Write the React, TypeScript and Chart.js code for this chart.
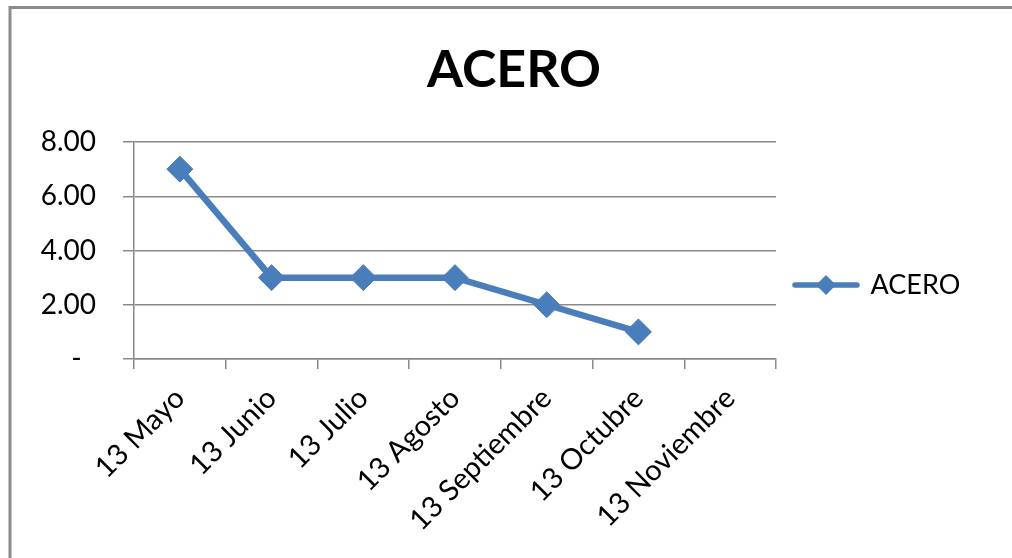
import React, { useEffect, useRef } from "react";
import { Chart, registerables } from "chart.js";

Chart.register(...registerables);

const titleText = "ACERO";
const seriesName = "ACERO";
const categories = [
  "13 Mayo",
  "13 Junio",
  "13 Julio",
  "13 Agosto",
  "13 Septiembre",
  "13 Octubre",
  "13 Noviembre",
];
const acero: (number | null)[] = [7, 3, 3, 3, 2, 1, null];
const yTickValues = [0, 2, 4, 6, 8];
const yTickLabels = ["-  ", "2.00", "4.00", "6.00", "8.00"];

const BLUE = "#4A7EBB";
const GRID = "#8a8a8a";
const FONT = "Lato, 'Open Sans', sans-serif";
const LEGEND_W = 236;

function makeLegendSample(): HTMLCanvasElement {
  const c = document.createElement("canvas");
  c.width = 68;
  c.height = 22;
  const ctx = c.getContext("2d")!;
  ctx.strokeStyle = BLUE;
  ctx.lineWidth = 5.5;
  ctx.lineCap = "round";
  ctx.beginPath();
  ctx.moveTo(3, 11);
  ctx.lineTo(65, 11);
  ctx.stroke();
  ctx.fillStyle = BLUE;
  ctx.beginPath();
  ctx.moveTo(34 - 10, 11);
  ctx.lineTo(34, 1);
  ctx.lineTo(34 + 10, 11);
  ctx.lineTo(34, 21);
  ctx.closePath();
  ctx.fill();
  return c;
}

const framePlugin = {
  id: "frame",
  beforeDraw(chart: any) {
    const ctx = chart.ctx;
    ctx.save();
    ctx.fillStyle = "#ffffff";
    ctx.fillRect(0, 0, chart.width, chart.height);
    ctx.strokeStyle = "#8c8c8c";
    ctx.lineWidth = 3;
    ctx.beginPath();
    ctx.moveTo(10, chart.height);
    ctx.lineTo(10, 7.5);
    ctx.lineTo(chart.width, 7.5);
    ctx.stroke();
    ctx.restore();
  },
};

const legendWidthPlugin = {
  id: "legendWidth",
  afterInit(chart: any) {
    const lg = chart.legend;
    if (!lg) return;
    const orig = lg.fit.bind(lg);
    lg.fit = () => {
      orig();
      lg.width = LEGEND_W;
    };
  },
};

export default function App() {
  const ref = useRef<HTMLCanvasElement | null>(null);

  useEffect(() => {
    if (!ref.current) return;
    const sample = makeLegendSample();
    const chart = new Chart(ref.current, {
      type: "line",
      data: {
        labels: categories,
        datasets: [
          {
            label: seriesName,
            data: acero,
            borderColor: BLUE,
            backgroundColor: BLUE,
            borderWidth: 6.5,
            tension: 0,
            pointStyle: "rectRot",
            pointRadius: 13,
            pointHoverRadius: 13,
            pointBorderWidth: 1,
            pointBackgroundColor: BLUE,
            pointBorderColor: BLUE,
            spanGaps: false,
          },
        ],
      },
      options: {
        responsive: false,
        animation: false,
        events: [],
        layout: { padding: { top: 12, left: 16, right: 0, bottom: 0 } },
        plugins: {
          title: {
            display: true,
            text: titleText,
            color: "#000",
            font: { family: FONT, size: 52, weight: "bold" },
            padding: { top: 27, bottom: 40.6 },
          },
          legend: {
            display: true,
            position: "right",
            labels: {
              usePointStyle: true,
              pointStyleWidth: 62,
              padding: 19,
              color: "#000",
              font: { family: FONT, size: 27 },
              generateLabels: (ch: any) =>
                ch.data.datasets.map((ds: any, i: number) => ({
                  text: ds.label,
                  fillStyle: BLUE,
                  strokeStyle: BLUE,
                  lineWidth: 0,
                  pointStyle: sample,
                  fontColor: "#000",
                  hidden: false,
                  datasetIndex: i,
                })),
            },
          },
          tooltip: { enabled: false },
        },
        scales: {
          x: {
            type: "category",
            offset: true,
            grid: {
              offset: true,
              drawOnChartArea: false,
              drawTicks: true,
              tickLength: 10,
              color: GRID,
              lineWidth: 1.5,
            },
            border: { display: true, color: GRID, width: 1.5 },
            ticks: {
              autoSkip: false,
              minRotation: 45,
              maxRotation: 45,
              padding: 12,
              color: "#000",
              font: { family: FONT, size: 29 },
            },
            afterFit: (s: any) => {
              s.height = 199;
            },
          },
          y: {
            min: 0,
            max: 8,
            afterBuildTicks: (s: any) => {
              s.ticks = yTickValues.map((v) => ({ value: v }));
            },
            grid: {
              drawOnChartArea: true,
              drawTicks: true,
              tickLength: 11,
              color: GRID,
              lineWidth: 1.5,
            },
            border: { display: true, color: GRID, width: 1.5 },
            ticks: {
              padding: 27,
              color: "#000",
              font: { family: FONT, size: 28 },
              callback: (v: any) => {
                const i = yTickValues.indexOf(Number(v));
                return i >= 0 ? yTickLabels[i] : "";
              },
            },
            afterFit: (s: any) => {
              s.width = 118;
            },
          },
        },
      },
      plugins: [framePlugin, legendWidthPlugin],
    });
    return () => chart.destroy();
  }, []);

  return (
    <div style={{ position: "absolute", left: 0, top: 0, width: 1012, height: 558 }}>
      <canvas ref={ref} width={1012} height={558} style={{ width: 1012, height: 558, display: "block" }} />
    </div>
  );
}
